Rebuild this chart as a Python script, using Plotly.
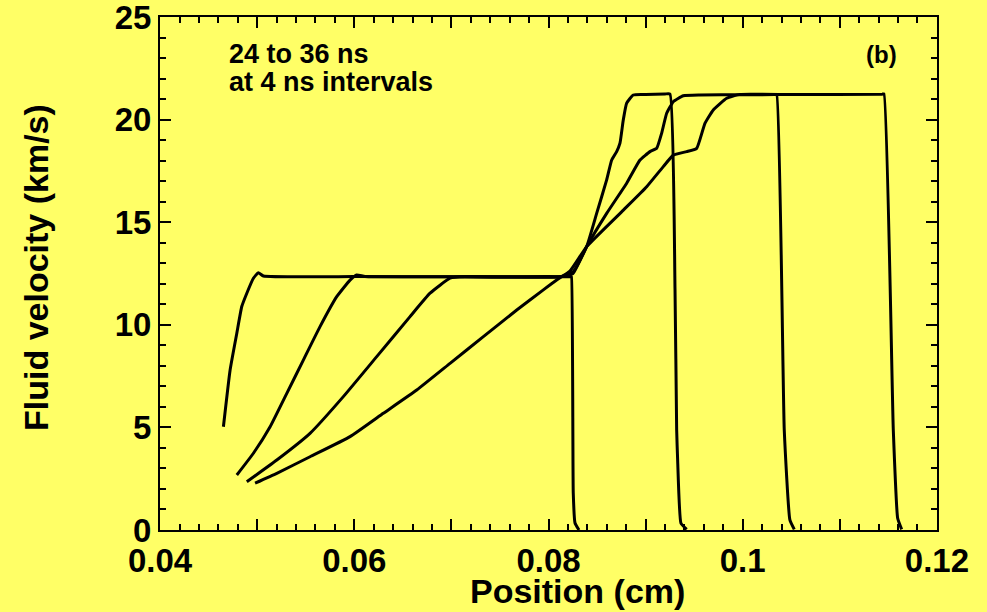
import plotly.graph_objects as go

# ---- data ----
x_24 = [0.04652, 0.04721, 0.04790, 0.04841, 0.04893, 0.04961, 0.05012, 0.05064, 0.0600, 0.0700, 0.0800, 0.08215,
        0.08232, 0.08237, 0.08255, 0.08273, 0.08314]
v_24 = [5.03, 7.80, 9.59, 10.89, 11.54, 12.27, 12.54, 12.38, 12.35, 12.34, 12.35, 12.34,
        12.34, 12.33, 1.80, 0.34, 0.0]

x_28 = [0.04790, 0.04961, 0.05133, 0.05305, 0.05475, 0.05647, 0.05819, 0.05956, 0.06025, 0.06111, 0.0700, 0.08118,
        0.08255, 0.08393, 0.08496, 0.08599, 0.08651, 0.08702, 0.08736, 0.08770, 0.08805, 0.08873, 0.0900,
        0.09200, 0.09251, 0.09303, 0.09320, 0.09330, 0.09364, 0.09423]
v_28 = [2.68, 3.74, 5.03, 6.66, 8.28, 9.91, 11.37, 12.18, 12.43, 12.35, 12.34, 12.34,
        12.59, 13.81, 15.43, 17.06, 18.03, 18.44, 18.85, 19.98, 20.80, 21.20, 21.22,
        21.25, 21.25, 11.7, 4.87, 3.41, 0.33, 0.03]

x_32 = [0.04893, 0.05202, 0.05544, 0.05887, 0.06231, 0.06574, 0.06780, 0.06986, 0.07140, 0.08118,
        0.08252, 0.08393, 0.08599, 0.08805, 0.08942, 0.09045, 0.09114, 0.09165, 0.09217, 0.09285,
        0.09388, 0.09560, 0.1000, 0.10330, 0.10350, 0.10428, 0.10486, 0.10531]
v_32 = [2.35, 3.41, 4.71, 6.50, 8.45, 10.40, 11.54, 12.27, 12.35, 12.34,
        12.50, 13.81, 15.43, 16.90, 18.03, 18.44, 18.60, 19.33, 20.31, 20.87,
        21.16, 21.20, 21.21, 21.22, 21.22, 4.87, 0.49, 0.03]

x_36 = [0.04978, 0.05202, 0.05544, 0.05956, 0.06299, 0.06643, 0.06986, 0.07329, 0.07673, 0.07947,
        0.08084, 0.08221, 0.08393, 0.08771, 0.09011, 0.09182, 0.09285, 0.09423, 0.09526, 0.09611,
        0.09697, 0.09835, 0.09972, 0.1050, 0.11435, 0.11455, 0.11551, 0.11596, 0.11637]
v_36 = [2.28, 2.76, 3.57, 4.55, 5.69, 6.82, 8.12, 9.42, 10.72, 11.70,
        12.18, 12.62, 13.81, 15.59, 16.73, 17.71, 18.27, 18.44, 18.60, 19.82,
        20.47, 21.04, 21.23, 21.22, 21.24, 21.25, 4.87, 0.57, 0.03]

x_tick_vals = [0.04, 0.05, 0.06, 0.07, 0.08, 0.09, 0.10, 0.11, 0.12]
x_tick_text = ["0.04", "", "0.06", "", "0.08", "", "0.1", "", "0.12"]
y_tick_vals = [0, 5, 10, 15, 20, 25]
y_tick_text = ["0", "5", "10", "15", "20", "25"]

x_title = "Position (cm)"
y_title = "Fluid velocity (km/s)"
note_line1 = "24 to 36 ns"
note_line2 = "at 4 ns intervals"
panel_label = "(b)"

BG = "#ffff66"
FONT = "Liberation Sans"

fig = go.Figure()
for xs, vs in [(x_24, v_24), (x_28, v_28), (x_32, v_32), (x_36, v_36)]:
    fig.add_trace(go.Scatter(x=xs, y=vs, mode="lines",
                             line=dict(color="black", width=3, shape="spline", smoothing=0.4),
                             showlegend=False, hoverinfo="skip"))

axis_common = dict(showline=True, linecolor="black", linewidth=2, mirror="allticks",
                   ticks="inside", tickcolor="black", tickwidth=1.5, ticklen=11,
                   showgrid=False, zeroline=False, ticklabeloverflow="allow",
                   tickfont=dict(family=FONT, size=33, color="black", weight="bold"))

fig.update_xaxes(range=[0.03999, 0.12001], tickmode="array", tickvals=x_tick_vals, ticktext=x_tick_text,
                 minor=dict(dtick=0.002, tick0=0.04, ticks="inside", ticklen=6, tickcolor="black",
                            tickwidth=1.5, showgrid=False),
                 **axis_common)
fig.update_yaxes(range=[-0.001, 25.001], tickmode="array", tickvals=y_tick_vals, ticktext=y_tick_text,
                 minor=dict(dtick=1, tick0=0, ticks="inside", ticklen=6, tickcolor="black",
                            tickwidth=1.5, showgrid=False),
                 **axis_common)

L, R, T, B = 160, 937, 17, 530
W, H = R - L, B - T
FIG_W, FIG_H = 987, 612

def px(x):
    return (x - L) / W

def py(y):
    return (B - y) / H

ann_font = dict(family=FONT, color="black", weight="bold")
fig.add_annotation(text=x_title, xref="paper", yref="paper", x=px(577), y=py(591),
                   xanchor="center", yanchor="middle", showarrow=False,
                   font=dict(size=34, **ann_font))
fig.add_annotation(text=y_title, xref="paper", yref="paper", x=px(36), y=py(268),
                   xanchor="center", yanchor="middle", showarrow=False, textangle=-90,
                   font=dict(size=34, **ann_font))
fig.add_annotation(text=note_line1, xref="paper", yref="paper", x=px(227), y=py(54),
                   xanchor="left", yanchor="middle", showarrow=False,
                   font=dict(size=27, **ann_font))
fig.add_annotation(text=note_line2, xref="paper", yref="paper", x=px(227), y=py(82),
                   xanchor="left", yanchor="middle", showarrow=False,
                   font=dict(size=27, **ann_font))
fig.add_annotation(text=panel_label, xref="paper", yref="paper", x=px(881), y=py(54),
                   xanchor="center", yanchor="middle", showarrow=False,
                   font=dict(size=24, **ann_font))

fig.update_layout(width=FIG_W, height=FIG_H, paper_bgcolor=BG, plot_bgcolor=BG,
                  margin=dict(l=L, r=FIG_W - R, t=T, b=FIG_H - B, autoexpand=False))

fig.write_html("out.html",
               config={"displayModeBar": False},
               post_script="document.body.style.margin='0';"
                           "document.body.style.overflow='hidden';"
                           "document.body.style.background='#ffff66';")
